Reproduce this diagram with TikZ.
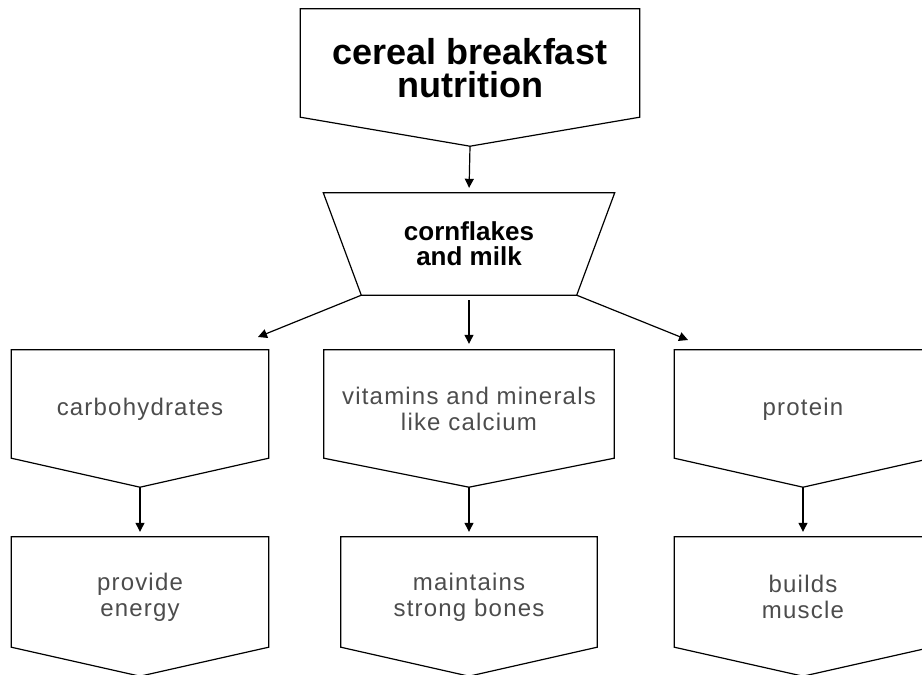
\documentclass[tikz,border=0pt]{standalone}
\usepackage{fontspec}
\setmainfont{Liberation Sans}
\newfontfamily\spacedfont[LetterSpace=5]{Liberation Sans}
\usetikzlibrary{arrows.meta,calc}

\begin{document}
\begin{tikzpicture}[x=1pt,y=-1pt, >={Triangle[length=9pt,width=9pt]},
    box/.style={minimum width=257pt, minimum height=118pt, inner sep=0pt, align=center,
      text=black!70, font=\spacedfont\fontsize{24}{26}\selectfont},
    edge/.style={line width=1.2pt}]
    \clip (0,0) rectangle (922,675);

    \node[box, minimum width=339pt, text=black, font=\fontsize{36}{33}\selectfont\bfseries] (title) at (470,68) {cereal breakfast\\nutrition};
    \node[box, minimum width=291pt, minimum height=102pt, text=black, font=\fontsize{26}{25}\selectfont\bfseries] (milk) at (469,244) {cornflakes\\and milk};

    \node[box] (carb) at (140,409) {carbohydrates};
    \node[box, minimum width=290pt] (vit) at (469,409) {vitamins and minerals\\like calcium};
    \node[box] (prot) at (803,409) {protein};

    \node[box, minimum height=120pt] (energy) at (140,597) {provide\\energy};
    \node[box, minimum width=256pt, minimum height=120pt] (bones) at (469,597) {maintains\\strong bones};
    \node[box, minimum height=120pt] (muscle) at (803,597) {builds\\muscle};

    % outlines
    \foreach \n in {title,carb,vit,prot,energy,bones,muscle}
        \draw[edge] (\n.north west) -- (\n.north east) -- ($(\n.south east)+(0,-10)$)
          -- ($(\n.south)+(0,19)$) coordinate (\n-tip) -- ($(\n.south west)+(0,-10)$) -- cycle;
    \draw[edge] (milk.north west) -- (milk.north east)
      -- ($(milk.south east)+(-38,0)$) coordinate (milk-br)
      -- ($(milk.south west)+(38,0)$) coordinate (milk-bl) -- cycle;

    \coordinate (carb-in) at (258,337);
    \coordinate (prot-in) at (688,340);

    \draw[edge,->,shorten >=5pt] (title-tip) -- (milk.north);
    \draw[edge,->] (milk-bl) -- (carb-in);
    \draw[edge,->] (milk-br) -- (prot-in);
    \draw[edge,->,shorten <=5pt,shorten >=6pt] (milk.south) -- (vit.north);
    \foreach \a/\b in {carb/energy, vit/bones, prot/muscle}
        \draw[edge,->,shorten >=5pt] (\a-tip) -- (\b.north);
\end{tikzpicture}
\end{document}
